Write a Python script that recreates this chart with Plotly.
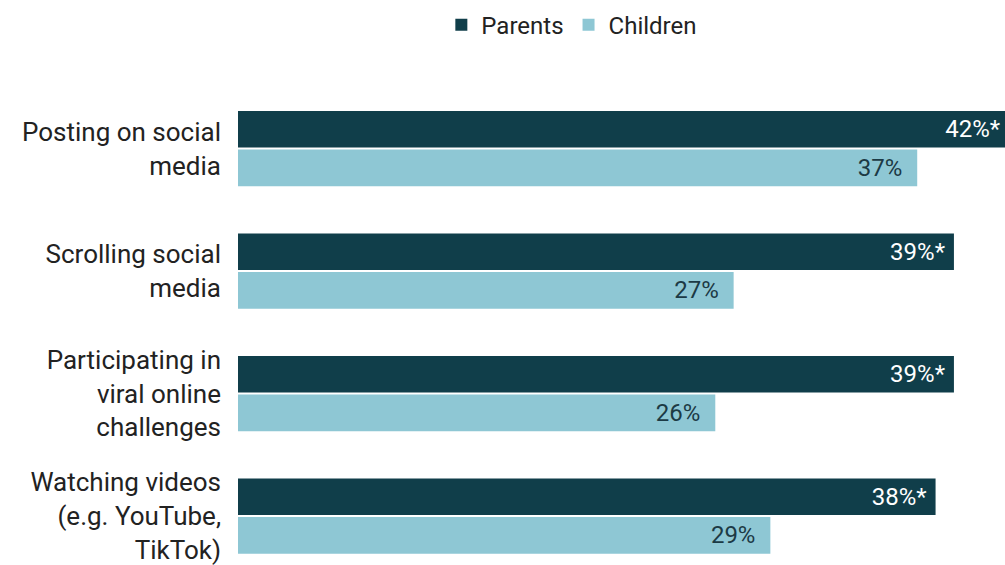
import plotly.graph_objects as go

categories = ["Posting on social<br>media", "Scrolling social<br>media",
              "Participating in<br>viral online<br>challenges",
              "Watching videos<br>(e.g. YouTube,<br>TikTok)"]
parents = [42, 39, 39, 38]
parents_star = [True, True, True, True]
children = [37, 27, 26, 29]

PARENT_COLOR = "#103e4a"
CHILD_COLOR = "#8ec7d4"

fig = go.Figure()
fig.add_trace(go.Bar(
    y=categories, x=parents, orientation="h", name="Parents",
    marker=dict(color=PARENT_COLOR, line=dict(width=0)),
    text=[f"{v}%{'*' if s else ''} " for v, s in zip(parents, parents_star)],
    textposition="inside", insidetextanchor="end",
    textfont=dict(color="white", size=24, family="Roboto"),
))
fig.add_trace(go.Bar(
    y=categories, x=children, orientation="h", name="Children",
    marker=dict(color=CHILD_COLOR, line=dict(width=0)),
    text=[f"{v}%  " for v in children],
    textposition="inside", insidetextanchor="end",
    textfont=dict(color="#1c3a45", size=24, family="Roboto"),
))

fig.update_layout(
    width=1009, height=565,
    barmode="group", bargap=0.37, bargroupgap=0.05,
    margin=dict(l=238, r=0, t=80, b=0),
    plot_bgcolor="white", paper_bgcolor="white",
    font=dict(family="Roboto", color="#222222"),
    xaxis=dict(range=[0, 42], visible=False),
    yaxis=dict(range=[3.4, -0.56], showgrid=False, zeroline=False, showline=False,
               ticks="", ticklabelstandoff=16,
               tickfont=dict(size=26, family="Roboto", color="#222222")),
    legend=dict(orientation="h", x=0.433, xanchor="center", y=1.113, yanchor="middle",
                font=dict(size=24, family="Roboto", color="#222222"),
                traceorder="normal"),
    uniformtext=dict(mode="show", minsize=10),
)

fig.write_html("out.html", config={"displayModeBar": False},
               post_script="document.body.style.margin='0';")
